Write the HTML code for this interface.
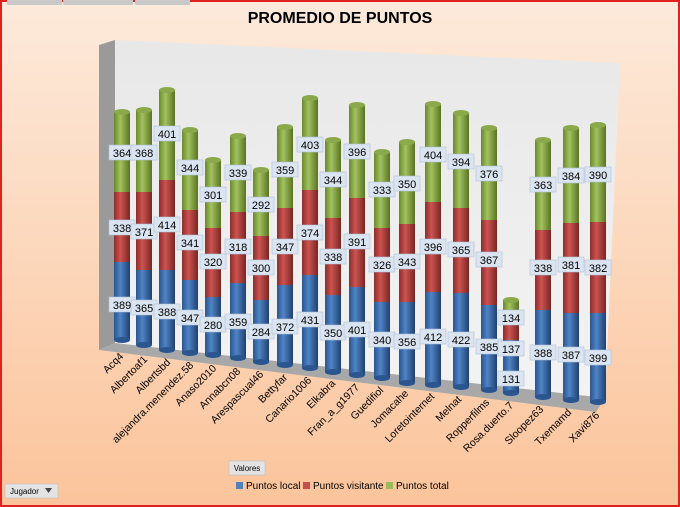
<!DOCTYPE html>
<html><head><meta charset="utf-8"><style>
html,body{margin:0;padding:0;width:680px;height:507px;overflow:hidden}
svg{display:block;font-family:"Liberation Sans",sans-serif}
</style></head><body>
<svg width="680" height="507" viewBox="0 0 680 507" xmlns="http://www.w3.org/2000/svg">
<defs>
<linearGradient id="bg" x1="0" y1="0" x2="0" y2="1"><stop offset="0" stop-color="#fdeadb"/><stop offset="1" stop-color="#fbc49b"/></linearGradient>
<linearGradient id="cb" x1="0" x2="1"><stop offset="0" stop-color="#2a558f"/><stop offset="0.4" stop-color="#4f84c6"/><stop offset="1" stop-color="#1f4070"/></linearGradient>
<linearGradient id="cr" x1="0" x2="1"><stop offset="0" stop-color="#8c2d2b"/><stop offset="0.4" stop-color="#cc5451"/><stop offset="1" stop-color="#792523"/></linearGradient>
<linearGradient id="cg" x1="0" x2="1"><stop offset="0" stop-color="#6b882c"/><stop offset="0.4" stop-color="#a2c25e"/><stop offset="1" stop-color="#5a7324"/></linearGradient>
<linearGradient id="wall" x1="0" y1="0" x2="0" y2="1"><stop offset="0" stop-color="#e8e8e8"/><stop offset="1" stop-color="#f3f3f3"/></linearGradient>
<g id="lb"><rect x="-13" y="-8" width="26" height="15" fill="#dbe5f1" stroke="#aebfd6" stroke-width="0.6"/></g>
</defs>
<rect x="0" y="0" width="680" height="507" fill="url(#bg)"/>
<rect x="1" y="1" width="678" height="505" fill="none" stroke="#e0211d" stroke-width="2"/>
<rect x="7" y="0" width="55" height="5" fill="#c9c9c9"/><rect x="63" y="0" width="70" height="5" fill="#c9c9c9"/><rect x="135" y="0" width="55" height="5" fill="#c9c9c9"/>
<text x="340" y="23" text-anchor="middle" font-size="16" font-weight="bold" fill="#000">PROMEDIO DE PUNTOS</text>
<!-- walls -->
<polygon points="115,40 620,63 605,398 115,343" fill="url(#wall)"/>
<polygon points="99,45 115,40 115,343 99,350" fill="#9a9a9a"/>
<polygon points="99,350 115,343 605,398 596,412" fill="#a8a8a8"/>
<g font-size="11" text-anchor="middle" fill="#000">
<g transform="translate(122,0)"><rect x="-8" y="262" width="16" height="78" fill="url(#cb)"/><ellipse cx="0" cy="340" rx="8" ry="3" fill="#2a558f"/><rect x="-8" y="192" width="16" height="70" fill="url(#cr)"/><rect x="-8" y="112" width="16" height="80" fill="url(#cg)"/><ellipse cx="0" cy="112" rx="8" ry="3" fill="#8aa94b"/>
<use href="#lb" y="153"/><text y="157">364</text><use href="#lb" y="228"/><text y="232">338</text><use href="#lb" y="305"/><text y="309">389</text></g>
<g transform="translate(144,0)"><rect x="-8" y="270" width="16" height="75" fill="url(#cb)"/><ellipse cx="0" cy="345" rx="8" ry="3" fill="#2a558f"/><rect x="-8" y="192" width="16" height="78" fill="url(#cr)"/><rect x="-8" y="110" width="16" height="82" fill="url(#cg)"/><ellipse cx="0" cy="110" rx="8" ry="3" fill="#8aa94b"/>
<use href="#lb" y="153"/><text y="157">368</text><use href="#lb" y="232"/><text y="236">371</text><use href="#lb" y="308"/><text y="312">365</text></g>
<g transform="translate(167,0)"><rect x="-8" y="270" width="16" height="80" fill="url(#cb)"/><ellipse cx="0" cy="350" rx="8" ry="3" fill="#2a558f"/><rect x="-8" y="180" width="16" height="90" fill="url(#cr)"/><rect x="-8" y="90" width="16" height="90" fill="url(#cg)"/><ellipse cx="0" cy="90" rx="8" ry="3" fill="#8aa94b"/>
<use href="#lb" y="134"/><text y="138">401</text><use href="#lb" y="225"/><text y="229">414</text><use href="#lb" y="312"/><text y="316">388</text></g>
<g transform="translate(190,0)"><rect x="-8" y="280" width="16" height="73" fill="url(#cb)"/><ellipse cx="0" cy="353" rx="8" ry="3" fill="#2a558f"/><rect x="-8" y="210" width="16" height="70" fill="url(#cr)"/><rect x="-8" y="130" width="16" height="80" fill="url(#cg)"/><ellipse cx="0" cy="130" rx="8" ry="3" fill="#8aa94b"/>
<use href="#lb" y="168"/><text y="172">344</text><use href="#lb" y="243"/><text y="247">341</text><use href="#lb" y="318"/><text y="322">347</text></g>
<g transform="translate(213,0)"><rect x="-8" y="297" width="16" height="58" fill="url(#cb)"/><ellipse cx="0" cy="355" rx="8" ry="3" fill="#2a558f"/><rect x="-8" y="228" width="16" height="69" fill="url(#cr)"/><rect x="-8" y="160" width="16" height="68" fill="url(#cg)"/><ellipse cx="0" cy="160" rx="8" ry="3" fill="#8aa94b"/>
<use href="#lb" y="195"/><text y="199">301</text><use href="#lb" y="262"/><text y="266">320</text><use href="#lb" y="325"/><text y="329">280</text></g>
<g transform="translate(238,0)"><rect x="-8" y="283" width="16" height="75" fill="url(#cb)"/><ellipse cx="0" cy="358" rx="8" ry="3" fill="#2a558f"/><rect x="-8" y="212" width="16" height="71" fill="url(#cr)"/><rect x="-8" y="136" width="16" height="76" fill="url(#cg)"/><ellipse cx="0" cy="136" rx="8" ry="3" fill="#8aa94b"/>
<use href="#lb" y="173"/><text y="177">339</text><use href="#lb" y="247"/><text y="251">318</text><use href="#lb" y="322"/><text y="326">359</text></g>
<g transform="translate(261,0)"><rect x="-8" y="300" width="16" height="62" fill="url(#cb)"/><ellipse cx="0" cy="362" rx="8" ry="3" fill="#2a558f"/><rect x="-8" y="236" width="16" height="64" fill="url(#cr)"/><rect x="-8" y="170" width="16" height="66" fill="url(#cg)"/><ellipse cx="0" cy="170" rx="8" ry="3" fill="#8aa94b"/>
<use href="#lb" y="205"/><text y="209">292</text><use href="#lb" y="268"/><text y="272">300</text><use href="#lb" y="332"/><text y="336">284</text></g>
<g transform="translate(285,0)"><rect x="-8" y="285" width="16" height="80" fill="url(#cb)"/><ellipse cx="0" cy="365" rx="8" ry="3" fill="#2a558f"/><rect x="-8" y="208" width="16" height="77" fill="url(#cr)"/><rect x="-8" y="127" width="16" height="81" fill="url(#cg)"/><ellipse cx="0" cy="127" rx="8" ry="3" fill="#8aa94b"/>
<use href="#lb" y="170"/><text y="174">359</text><use href="#lb" y="247"/><text y="251">347</text><use href="#lb" y="327"/><text y="331">372</text></g>
<g transform="translate(310,0)"><rect x="-8" y="275" width="16" height="93" fill="url(#cb)"/><ellipse cx="0" cy="368" rx="8" ry="3" fill="#2a558f"/><rect x="-8" y="190" width="16" height="85" fill="url(#cr)"/><rect x="-8" y="98" width="16" height="92" fill="url(#cg)"/><ellipse cx="0" cy="98" rx="8" ry="3" fill="#8aa94b"/>
<use href="#lb" y="145"/><text y="149">403</text><use href="#lb" y="233"/><text y="237">374</text><use href="#lb" y="320"/><text y="324">431</text></g>
<g transform="translate(333,0)"><rect x="-8" y="295" width="16" height="77" fill="url(#cb)"/><ellipse cx="0" cy="372" rx="8" ry="3" fill="#2a558f"/><rect x="-8" y="218" width="16" height="77" fill="url(#cr)"/><rect x="-8" y="140" width="16" height="78" fill="url(#cg)"/><ellipse cx="0" cy="140" rx="8" ry="3" fill="#8aa94b"/>
<use href="#lb" y="180"/><text y="184">344</text><use href="#lb" y="257"/><text y="261">338</text><use href="#lb" y="333"/><text y="337">350</text></g>
<g transform="translate(357,0)"><rect x="-8" y="287" width="16" height="88" fill="url(#cb)"/><ellipse cx="0" cy="375" rx="8" ry="3" fill="#2a558f"/><rect x="-8" y="198" width="16" height="89" fill="url(#cr)"/><rect x="-8" y="105" width="16" height="93" fill="url(#cg)"/><ellipse cx="0" cy="105" rx="8" ry="3" fill="#8aa94b"/>
<use href="#lb" y="152"/><text y="156">396</text><use href="#lb" y="242"/><text y="246">391</text><use href="#lb" y="330"/><text y="334">401</text></g>
<g transform="translate(382,0)"><rect x="-8" y="302" width="16" height="76" fill="url(#cb)"/><ellipse cx="0" cy="378" rx="8" ry="3" fill="#2a558f"/><rect x="-8" y="228" width="16" height="74" fill="url(#cr)"/><rect x="-8" y="152" width="16" height="76" fill="url(#cg)"/><ellipse cx="0" cy="152" rx="8" ry="3" fill="#8aa94b"/>
<use href="#lb" y="190"/><text y="194">333</text><use href="#lb" y="265"/><text y="269">326</text><use href="#lb" y="340"/><text y="344">340</text></g>
<g transform="translate(407,0)"><rect x="-8" y="302" width="16" height="81" fill="url(#cb)"/><ellipse cx="0" cy="383" rx="8" ry="3" fill="#2a558f"/><rect x="-8" y="224" width="16" height="78" fill="url(#cr)"/><rect x="-8" y="142" width="16" height="82" fill="url(#cg)"/><ellipse cx="0" cy="142" rx="8" ry="3" fill="#8aa94b"/>
<use href="#lb" y="184"/><text y="188">350</text><use href="#lb" y="262"/><text y="266">343</text><use href="#lb" y="342"/><text y="346">356</text></g>
<g transform="translate(433,0)"><rect x="-8" y="292" width="16" height="93" fill="url(#cb)"/><ellipse cx="0" cy="385" rx="8" ry="3" fill="#2a558f"/><rect x="-8" y="202" width="16" height="90" fill="url(#cr)"/><rect x="-8" y="104" width="16" height="98" fill="url(#cg)"/><ellipse cx="0" cy="104" rx="8" ry="3" fill="#8aa94b"/>
<use href="#lb" y="155"/><text y="159">404</text><use href="#lb" y="247"/><text y="251">396</text><use href="#lb" y="337"/><text y="341">412</text></g>
<g transform="translate(461,0)"><rect x="-8" y="293" width="16" height="94" fill="url(#cb)"/><ellipse cx="0" cy="387" rx="8" ry="3" fill="#2a558f"/><rect x="-8" y="208" width="16" height="85" fill="url(#cr)"/><rect x="-8" y="113" width="16" height="95" fill="url(#cg)"/><ellipse cx="0" cy="113" rx="8" ry="3" fill="#8aa94b"/>
<use href="#lb" y="162"/><text y="166">394</text><use href="#lb" y="250"/><text y="254">365</text><use href="#lb" y="340"/><text y="344">422</text></g>
<g transform="translate(489,0)"><rect x="-8" y="305" width="16" height="85" fill="url(#cb)"/><ellipse cx="0" cy="390" rx="8" ry="3" fill="#2a558f"/><rect x="-8" y="220" width="16" height="85" fill="url(#cr)"/><rect x="-8" y="128" width="16" height="92" fill="url(#cg)"/><ellipse cx="0" cy="128" rx="8" ry="3" fill="#8aa94b"/>
<use href="#lb" y="174"/><text y="178">376</text><use href="#lb" y="260"/><text y="264">367</text><use href="#lb" y="347"/><text y="351">385</text></g>
<g transform="translate(511,0)"><rect x="-8" y="340" width="16" height="53" fill="url(#cb)"/><ellipse cx="0" cy="393" rx="8" ry="3" fill="#2a558f"/><rect x="-8" y="320" width="16" height="20" fill="url(#cr)"/><rect x="-8" y="300" width="16" height="20" fill="url(#cg)"/><ellipse cx="0" cy="300" rx="8" ry="3" fill="#8aa94b"/>
<use href="#lb" y="318"/><text y="322">134</text><use href="#lb" y="349"/><text y="353">137</text><use href="#lb" y="379"/><text y="383">131</text></g>
<g transform="translate(543,0)"><rect x="-8" y="310" width="16" height="87" fill="url(#cb)"/><ellipse cx="0" cy="397" rx="8" ry="3" fill="#2a558f"/><rect x="-8" y="230" width="16" height="80" fill="url(#cr)"/><rect x="-8" y="140" width="16" height="90" fill="url(#cg)"/><ellipse cx="0" cy="140" rx="8" ry="3" fill="#8aa94b"/>
<use href="#lb" y="185"/><text y="189">363</text><use href="#lb" y="268"/><text y="272">338</text><use href="#lb" y="353"/><text y="357">388</text></g>
<g transform="translate(571,0)"><rect x="-8" y="313" width="16" height="87" fill="url(#cb)"/><ellipse cx="0" cy="400" rx="8" ry="3" fill="#2a558f"/><rect x="-8" y="223" width="16" height="90" fill="url(#cr)"/><rect x="-8" y="128" width="16" height="95" fill="url(#cg)"/><ellipse cx="0" cy="128" rx="8" ry="3" fill="#8aa94b"/>
<use href="#lb" y="176"/><text y="180">384</text><use href="#lb" y="265"/><text y="269">381</text><use href="#lb" y="355"/><text y="359">387</text></g>
<g transform="translate(598,0)"><rect x="-8" y="313" width="16" height="89" fill="url(#cb)"/><ellipse cx="0" cy="402" rx="8" ry="3" fill="#2a558f"/><rect x="-8" y="222" width="16" height="91" fill="url(#cr)"/><rect x="-8" y="125" width="16" height="97" fill="url(#cg)"/><ellipse cx="0" cy="125" rx="8" ry="3" fill="#8aa94b"/>
<use href="#lb" y="175"/><text y="179">390</text><use href="#lb" y="268"/><text y="272">382</text><use href="#lb" y="358"/><text y="362">399</text></g>
</g>
<!-- category labels -->
<g font-size="10.5" text-anchor="end" fill="#000">
<text transform="translate(124,357) rotate(-45)">Acq4</text>
<text transform="translate(148,360) rotate(-45)">Albertoaf1</text>
<text transform="translate(171,363) rotate(-45)">Albertsbd</text>
<text transform="translate(194,366) rotate(-45)">alejandra.menendez.58</text>
<text transform="translate(217,369) rotate(-45)">Anaso2010</text>
<text transform="translate(241,372) rotate(-45)">Annabcn08</text>
<text transform="translate(264,375) rotate(-45)">Arespascual46</text>
<text transform="translate(288,378) rotate(-45)">Bettyfar</text>
<text transform="translate(312,381) rotate(-45)">Canario1006</text>
<text transform="translate(336,384) rotate(-45)">Elkabra</text>
<text transform="translate(360,388) rotate(-45)">Fran_a_g1977</text>
<text transform="translate(384,391) rotate(-45)">Guedifiol</text>
<text transform="translate(409,394) rotate(-45)">Jomacahe</text>
<text transform="translate(435,397) rotate(-45)">Loretointernet</text>
<text transform="translate(462,400) rotate(-45)">Melnat</text>
<text transform="translate(490,403) rotate(-45)">Ropperfilms</text>
<text transform="translate(514,406) rotate(-45)">Rosa.duerto.7</text>
<text transform="translate(544,410) rotate(-45)">Sloopez63</text>
<text transform="translate(572,413) rotate(-45)">Txemamd</text>
<text transform="translate(600,416) rotate(-45)">Xavi876</text>
</g>
<!-- legend -->
<rect x="229" y="461" width="36" height="14" fill="#e3e3e3" stroke="#bdbdbd" stroke-width="0.6"/>
<text x="247" y="471" font-size="8" text-anchor="middle">Valores</text>
<g font-size="10" fill="#000">
<rect x="236" y="482" width="7" height="7" fill="#4f81bd"/><text x="246" y="489">Puntos local</text>
<rect x="303" y="482" width="7" height="7" fill="#c0504d"/><text x="313" y="489">Puntos visitante</text>
<rect x="386" y="482" width="7" height="7" fill="#9bbb59"/><text x="396" y="489">Puntos total</text>
</g>
<rect x="5" y="484" width="53" height="14" fill="#e3e3e3" stroke="#bdbdbd" stroke-width="0.6"/>
<text x="10" y="494" font-size="8">Jugador</text>
<polygon points="45,488 52,488 48.5,493" fill="#444"/>
</svg>
</body></html>
